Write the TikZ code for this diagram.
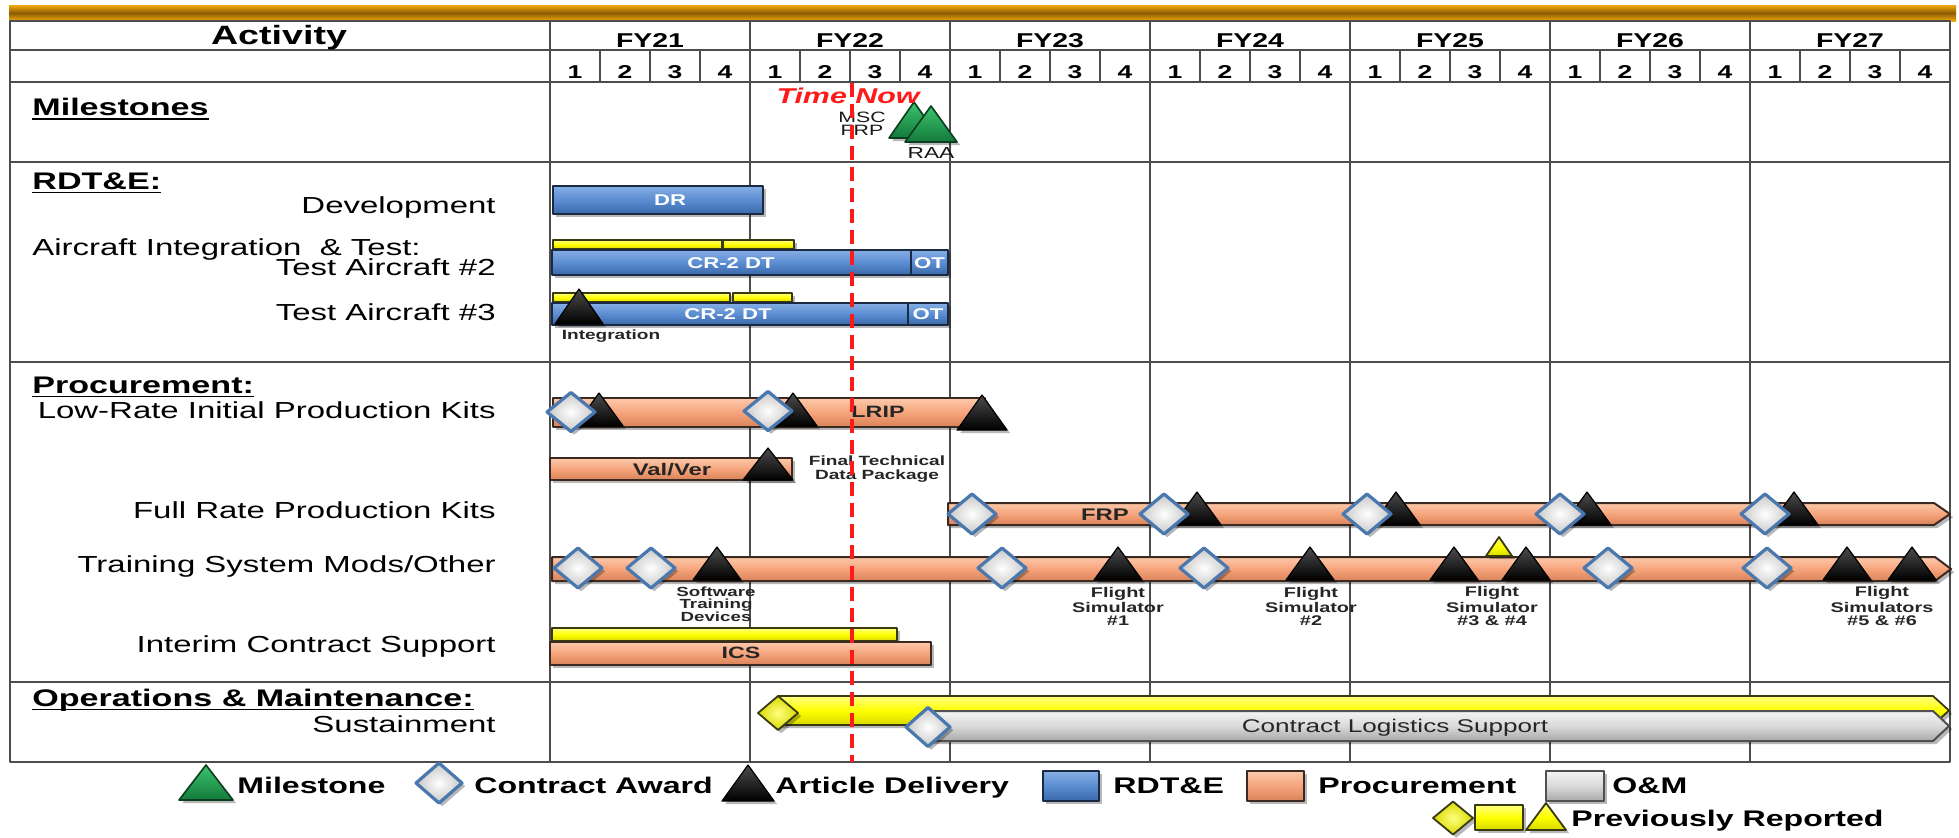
\documentclass[tikz,border=0pt]{standalone}
\usepackage{fontspec}
\setmainfont{Liberation Sans}[FakeStretch=1.42]
\usetikzlibrary{shadows}
\definecolor{gridc}{HTML}{4D4D4D}
\definecolor{rdteT}{HTML}{86AEE3}
\definecolor{rdteM}{HTML}{5B8DD3}
\definecolor{rdteB}{HTML}{3A68A8}
\definecolor{rdteE}{HTML}{1B2A44}
\definecolor{procT}{HTML}{FCC9AA}
\definecolor{procM}{HTML}{F6A47C}
\definecolor{procB}{HTML}{D98258}
\definecolor{procE}{HTML}{3B2A22}
\definecolor{omT}{HTML}{F4F4F4}
\definecolor{omM}{HTML}{D9D9D9}
\definecolor{omB}{HTML}{A8A8A8}
\definecolor{omE}{HTML}{505050}
\definecolor{yelT}{HTML}{FFFF80}
\definecolor{yelM}{HTML}{FFFF00}
\definecolor{yelB}{HTML}{D8D800}
\definecolor{yelE}{HTML}{3A3A10}
\definecolor{diaE}{HTML}{4A78AE}
\definecolor{grnT}{HTML}{3CC46E}
\definecolor{grnB}{HTML}{137A3A}
\definecolor{grnE}{HTML}{0B3D1F}
\definecolor{goldA}{HTML}{F3AA0C}
\definecolor{goldB}{HTML}{8C5C05}
\definecolor{nowred}{HTML}{FF1A1A}
\newcommand\ulx[1]{\setbox0\hbox{#1}\rlap{\rule[-2.2pt]{\wd0}{0.9pt}}\box0}
\newcommand\bx[5]{\path[#1] (#2,#3) rectangle (#4,#5);}
\newcommand\pbx[5]{\path[#1] (#2,#3) -- ({#4-16},#3) -- (#4,{(#3+#5)/2}) -- ({#4-16},#5) -- (#2,#5) -- cycle;}
\newcommand\tri[5]{\path[#1] (#2,#3) -- ({#2+#4},#5) -- ({#2-#4},#5) -- cycle;}
\newcommand\dia[5]{\path[#1] ({#2-#4},#3) -- (#2,{#3-#5}) -- ({#2+#4},#3) -- (#2,{#3+#5}) -- cycle;}
\tikzset{
 gridline/.style={draw=gridc, line width=1pt},
 shd/.style={drop shadow={shadow xshift=1.6pt,shadow yshift=-1.6pt,opacity=0.28,fill=black}},
 rdte/.style={shd, draw=rdteE, line width=1pt, top color=rdteT, bottom color=rdteB, middle color=rdteM},
 proc/.style={shd, draw=procE, line width=1pt, top color=procT, bottom color=procB, middle color=procM},
 om/.style={shd, draw=omE, line width=1pt, top color=omT, bottom color=omB, middle color=omM},
 yel/.style={shd, draw=yelE, line width=0.9pt, top color=yelT, bottom color=yelB, middle color=yelM},
 award/.style={shd, draw=diaE, line width=1.6pt, inner color=white, outer color=black!22},
 yaward/.style={shd, draw=yelE, line width=0.9pt, inner color=yelT, outer color=yelB},
 deliv/.style={shd, draw=black, line width=0.6pt, top color=black!70, bottom color=black},
 mile/.style={shd, draw=grnE, line width=0.8pt, top color=grnT, bottom color=grnB},
 sect/.style={anchor=base west, inner sep=0pt, font=\fontsize{12}{14}\selectfont\bfseries},
 rowlbl/.style={anchor=base east, inner sep=0pt, font=\fontsize{11.6}{14}\selectfont},
 fy/.style={anchor=base, inner sep=0pt, font=\fontsize{10}{12}\selectfont\bfseries},
 qtr/.style={anchor=base, inner sep=0pt, font=\fontsize{9.3}{11}\selectfont\bfseries},
 wlbl/.style={inner sep=0pt, text=white, font=\fontsize{7.8}{9}\selectfont\bfseries},
 dlbl/.style={inner sep=0pt, text=black!85, font=\fontsize{8.2}{9}\selectfont\bfseries},
 note/.style={inner sep=0pt, align=center, text=black!85, font=\fontsize{6.7}{6.4}\selectfont\bfseries},
 small/.style={inner sep=0pt, text=black!90, font=\fontsize{8}{9}\selectfont},
 leg/.style={anchor=base west, inner sep=0pt, font=\fontsize{11.3}{13}\selectfont\bfseries},
}
\begin{document}
\begin{tikzpicture}[x=0.5pt,y=-0.5pt,line join=round]
\useasboundingbox (0,0) rectangle (1959,837);
\fill[white] (0,0) rectangle (1959,837);
% golden top bar
\shade[top color=goldA, bottom color=goldB] (9,5) rectangle (1956,13);
\shade[top color=goldB, bottom color=goldA] (9,13) rectangle (1956,21);
% grid
\draw[gridline] (10,21) rectangle (1950,762);
\foreach \yy in {50,82,162,362,682} \draw[gridline] (10,\yy) -- (1950,\yy);
\draw[gridline] (550,21) -- (550,762);
\foreach \xx in {750,950,...,1750} \draw[gridline] (\xx,21) -- (\xx,762);
\foreach \k in {0,...,6} \foreach \q in {1,2,3} \draw[gridline] ({550+200*\k+50*\q},50) -- ({550+200*\k+50*\q},82);
% header
\node[anchor=base, inner sep=0pt, font=\fontsize{13.25}{15}\selectfont\bfseries] (act) at (279,44) {Activity};
\foreach \k/\yr in {0/21,1/22,2/23,3/24,4/25,5/26,6/27} {
  \node[fy] (fy\yr) at ({650+200*\k},47.5) {FY\yr};
  \foreach \q in {1,2,3,4} \node[qtr] (q\yr\q) at ({525+200*\k+50*\q},78) {\q};
}
% left labels
\node[sect] (lmil) at (32,115.5) {\ulx{Milestones}};
\node[sect] (lrdt) at (32,189) {\ulx{RDT\&E:}};
\node[rowlbl] (ldev) at (496,213) {Development};
\node[sect, font=\fontsize{11.6}{14}\selectfont] (lait) at (32,255) {Aircraft Integration~ \& Test:};
\node[rowlbl] (lta2) at (496,275) {Test Aircraft \#2};
\node[rowlbl] (lta3) at (496,320) {Test Aircraft \#3};
\node[sect] (lpro) at (32,393) {\ulx{Procurement:}};
\node[rowlbl] (llrip) at (496,418) {Low-Rate Initial Production Kits};
\node[rowlbl] (lfrp) at (496,518) {Full Rate Production Kits};
\node[rowlbl] (ltsm) at (496,572) {Training System Mods/Other};
\node[rowlbl] (lics) at (496,652) {Interim Contract Support};
\node[sect] (lom) at (32,706) {\ulx{Operations \& Maintenance:}};
\node[rowlbl] (lsus) at (496,732) {Sustainment};
% milestones
\tri{mile}{914}{102}{25}{138}
\tri{mile}{931}{106}{26}{142}
\node[small, align=center, font=\fontsize{7.5}{6.6}\selectfont] (mscfrp) at (862,124) {MSC\\FRP};
\node[small] (raa) at (931,153) {RAA};
% RDT&E
\bx{rdte}{553}{186}{763}{214}
\node[wlbl] (dr) at (670,200) {DR};
\bx{yel}{553}{240}{722}{249}
\bx{yel}{723}{240}{794}{249}
\bx{rdte}{552}{250}{911}{275}
\bx{rdte}{911}{250}{948}{275}
\node[wlbl] (cr2) at (731,263) {CR-2 DT};
\node[wlbl] (ot2) at (929.5,263) {OT};
\bx{yel}{553}{293}{730}{302}
\bx{yel}{733}{293}{792}{302}
\bx{rdte}{552}{303}{908}{325}
\bx{rdte}{908}{303}{948}{325}
\node[wlbl] (cr3) at (728,314) {CR-2 DT};
\node[wlbl] (ot3) at (928,314) {OT};
\tri{deliv}{579}{289}{24}{324}
\node[note] (integ) at (611,336) {Integration};
% LRIP
\bx{proc}{553}{398}{985}{427}
\tri{deliv}{599}{393}{24}{426}
\tri{deliv}{793}{393}{24}{426}
\tri{deliv}{982}{395}{25}{430}
\dia{award}{571}{412}{24}{19.5}
\dia{award}{768}{411}{24}{19.5}
\node[dlbl] (lriptxt) at (878,412) {LRIP};
% Val/Ver
\bx{proc}{550}{458}{792}{480}
\node[dlbl, font=\fontsize{8.4}{9}\selectfont\bfseries] (vv) at (672,470) {Val/Ver};
\tri{deliv}{768}{448}{25}{480}
\node[note, font=\fontsize{6.7}{7}\selectfont\bfseries] (ftdp) at (877,469) {Final Technical\\Data Package};
% FRP
\pbx{proc}{948}{503}{1950}{525}
\foreach \xx in {1197,1396,1587,1794} {\tri{deliv}{\xx}{492}{24}{525}}
\foreach \xx in {972,1164,1367,1560,1765} {\dia{award}{\xx}{514}{24}{20}}
\node[dlbl, font=\fontsize{8.4}{9}\selectfont\bfseries] (frptxt) at (1105,515) {FRP};
% Training
\pbx{proc}{552}{557}{1951}{581}
\tri{yel}{1499}{537}{13}{556}
\foreach \xx in {717,1118,1310,1454,1526,1847,1912} {\tri{deliv}{\xx}{547}{24}{580}}
\foreach \xx in {578,651,1002,1204,1608,1767} {\dia{award}{\xx}{568}{24}{20}}
\node[note, font=\fontsize{6.6}{6.25}\selectfont\bfseries] (std) at (716,604) {Software\\Training\\Devices};
\node[note, font=\fontsize{7}{6.5}\selectfont\bfseries] (fs1) at (1118,606) {Flight\\Simulator\\\#1};
\node[note, font=\fontsize{7}{6.5}\selectfont\bfseries] (fs2) at (1311,606) {Flight\\Simulator\\\#2};
\node[note, font=\fontsize{7}{6.5}\selectfont\bfseries] (fs34) at (1492,606) {Flight\\Simulator\\\#3 \& \#4};
\node[note, font=\fontsize{7}{6.5}\selectfont\bfseries] (fs56) at (1882,606) {Flight\\Simulators\\\#5 \& \#6};
% ICS
\bx{yel}{552}{628}{897}{641}
\bx{proc}{550}{642}{931}{665}
\node[dlbl] (icstxt) at (741,653) {ICS};
% Sustainment
\pbx{yel}{778}{696}{1949}{725}
\dia{yaward}{778}{713}{20}{17}
\pbx{om}{928}{711}{1949}{741}
\dia{award}{928}{727}{22}{19.5}
\node[inner sep=0pt, text=black!85, font=\fontsize{9.2}{10}\selectfont] (cls) at (1395,728) {Contract Logistics Support};
% time now
\draw[nowred, line width=1.7pt, dash pattern=on 7pt off 3.5pt] (852,83) -- (852,762);
\node[anchor=base, inner sep=0pt, text=nowred, font=\fontsize{10.7}{12}\selectfont\bfseries\itshape] (tnow) at (848,103.5) {Time Now};
% legend
\tri{mile}{206}{765}{27}{800}
\node[leg] (lgmile) at (237,793) {Milestone};
\dia{award}{439}{783}{23}{20}
\node[leg] (lgaward) at (474,793) {Contract Award};
\tri{deliv}{748}{765}{26}{801}
\node[leg] (lgdeliv) at (775,793) {Article Delivery};
\bx{rdte}{1043}{771}{1099}{801}
\node[leg] (lgrdte) at (1113,793) {RDT\&E};
\bx{proc}{1247}{771}{1304}{801}
\node[leg] (lgproc) at (1318,793) {Procurement};
\bx{om}{1546}{771}{1604}{801}
\node[leg] (lgom) at (1612,793) {O\&M};
\dia{yaward}{1453}{818}{20}{16.5}
\bx{yel}{1475}{805}{1523}{830}
\tri{yel}{1546}{803}{20}{830}
\node[leg] (lgprev) at (1571,826) {Previously Reported};
\end{tikzpicture}
\end{document}
